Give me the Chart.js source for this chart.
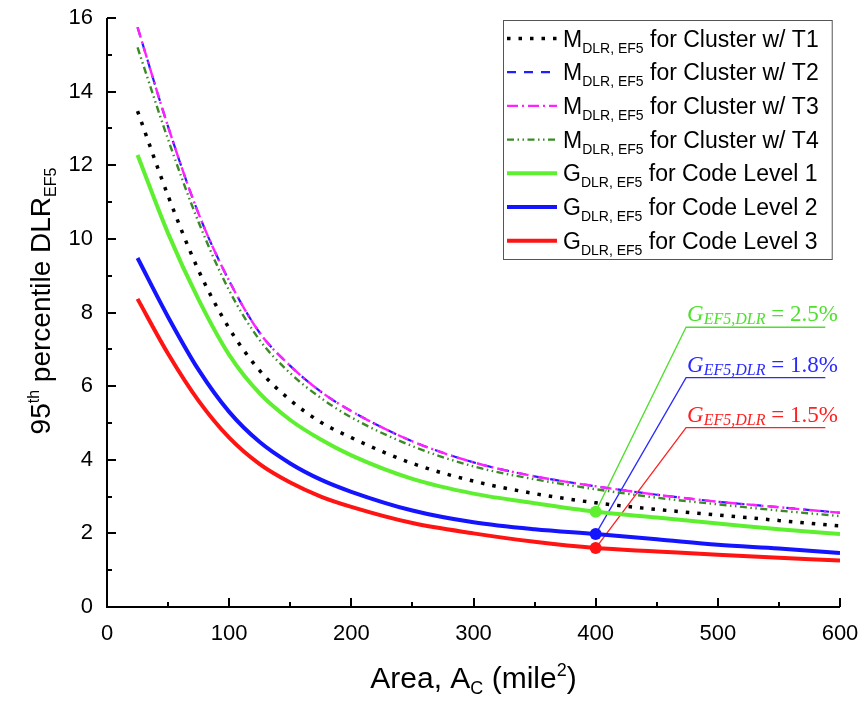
<!DOCTYPE html>
<html lang="en">
<head>
<meta charset="UTF-8">
<title>95th percentile DLR vs area</title>
<script src="https://cdn.jsdelivr.net/npm/chart.js"></script>
<style>
  body { margin: 0; background: #fff; }
  #wrap { width: 862px; height: 702px; }
</style>
</head>
<body>
<div id="wrap"><canvas id="chart" width="862" height="702"></canvas></div>
<script>
// values
const areas = [25, 50, 75, 100, 125, 150, 175, 200, 250, 300, 350, 400, 450, 500, 550, 600];
const clusterT1 = [13.47, 11.17, 9.14, 7.57, 6.42, 5.62, 5.02, 4.6, 3.9, 3.42, 3.08, 2.83, 2.65, 2.5, 2.35, 2.2];
const clusterT2 = [15.75, 13.05, 10.68, 8.86, 7.45, 6.55, 5.85, 5.32, 4.5, 3.93, 3.55, 3.28, 3.05, 2.86, 2.71, 2.56];
const clusterT3 = [15.75, 13.05, 10.68, 8.86, 7.45, 6.55, 5.85, 5.32, 4.5, 3.93, 3.55, 3.28, 3.05, 2.86, 2.71, 2.56];
const clusterT4 = [15.2, 12.7, 10.45, 8.6, 7.25, 6.35, 5.68, 5.15, 4.37, 3.82, 3.47, 3.2, 2.97, 2.79, 2.62, 2.47];
const codeLevel1 = [12.28, 10.15, 8.35, 6.85, 5.8, 5.08, 4.55, 4.12, 3.48, 3.08, 2.82, 2.59, 2.43, 2.27, 2.11, 1.98];
const codeLevel2 = [9.48, 7.88, 6.44, 5.3, 4.48, 3.9, 3.46, 3.13, 2.62, 2.3, 2.11, 1.98, 1.84, 1.69, 1.59, 1.47];
const codeLevel3 = [8.37, 6.88, 5.6, 4.6, 3.88, 3.38, 3.0, 2.72, 2.28, 2.0, 1.77, 1.6, 1.51, 1.42, 1.34, 1.26];

const legendNames = ['for Cluster w/ T1', 'for Cluster w/ T2', 'for Cluster w/ T3', 'for Cluster w/ T4',
                     'for Code Level 1', 'for Code Level 2', 'for Code Level 3'];
const legendSymbols = ['M', 'M', 'M', 'M', 'G', 'G', 'G'];

// design area where the code-level curves are marked, and the callouts
const markedArea = 400;
const calloutRates = ['2.5%', '1.8%', '1.5%'];
const calloutLevelY = [7.6, 6.23, 4.87];
const calloutX = [474, 588];

const SANS = "'Liberation Sans', Arial, sans-serif";
const SERIF = "'Liberation Serif', 'Times New Roman', serif";

function pts(vals) {
    return areas.map((a, i) => ({ x: a, y: vals[i] }));
}

function drawRich(ctx, parts, x, y) {
    let cx = x;
    parts.forEach(p => {
        ctx.font = p.font;
        ctx.fillText(p.t, cx, y + (p.dy || 0));
        cx += ctx.measureText(p.t).width;
    });
    return cx;
}

function richWidth(ctx, parts) {
    let w = 0;
    parts.forEach(p => { ctx.font = p.font; w += ctx.measureText(p.t).width; });
    return w;
}

const markRadius = ctx => (ctx.raw && ctx.raw.x === markedArea ? 6 : 0);

const datasets = [
    { data: pts(clusterT1), borderColor: '#000000', borderWidth: 3.5, borderDash: [3.5, 8], order: 2 },
    { data: pts(clusterT2), borderColor: '#1f1fff', borderWidth: 2.2, borderDash: [9, 8], order: 5 },
    { data: pts(clusterT3), borderColor: '#ff22ff', borderWidth: 2.4, borderDash: [11, 4, 2, 4], order: 4 },
    { data: pts(clusterT4), borderColor: '#3a8a25', borderWidth: 2.4, borderDash: [7, 3.5, 1.5, 3.5, 1.5, 3.5], order: 3 },
    { data: pts(codeLevel1), borderColor: '#5ef030', borderWidth: 4, order: 1, pointRadius: markRadius },
    { data: pts(codeLevel2), borderColor: '#1414ff', borderWidth: 4, order: 1, pointRadius: markRadius },
    { data: pts(codeLevel3), borderColor: '#ff1414', borderWidth: 4, order: 1, pointRadius: markRadius }
];
datasets.forEach(d => {
    d.fill = false;
    d.cubicInterpolationMode = 'monotone';
    d.borderCapStyle = 'butt';
    if (!d.pointRadius) d.pointRadius = 0;
    d.pointBackgroundColor = d.borderColor;
    d.pointBorderColor = d.borderColor;
    d.pointBorderWidth = 0;
});

const calloutColors = ['#4fe02f', '#2a2aff', '#ff2020'];
const calloutSeries = [codeLevel1, codeLevel2, codeLevel3];

const decorations = {
    id: 'decorations',
    beforeDatasetsDraw(chart) {
        // leader lines from the marked points to the rate labels
        const { ctx, scales: { x, y } } = chart;
        ctx.save();
        ctx.lineWidth = 1.3;
        calloutSeries.forEach((s, i) => {
            const k = areas.indexOf(markedArea);
            ctx.strokeStyle = calloutColors[i];
            ctx.beginPath();
            ctx.moveTo(x.getPixelForValue(markedArea), y.getPixelForValue(s[k]));
            ctx.lineTo(x.getPixelForValue(calloutX[0]), y.getPixelForValue(calloutLevelY[i]));
            ctx.lineTo(x.getPixelForValue(calloutX[1]), y.getPixelForValue(calloutLevelY[i]));
            ctx.stroke();
        });
        ctx.restore();
    },
    afterDraw(chart) {
        const { ctx, chartArea: a, scales: { x, y } } = chart;
        ctx.save();
        // axes with inward ticks
        ctx.strokeStyle = '#000';
        ctx.lineWidth = 2;
        ctx.beginPath();
        ctx.moveTo(a.left, a.top);
        ctx.lineTo(a.left, a.bottom);
        ctx.lineTo(a.right, a.bottom);
        for (let v = x.min; v <= x.max; v += 50) {
            const px = Math.round(x.getPixelForValue(v));
            ctx.moveTo(px, a.bottom);
            ctx.lineTo(px, a.bottom - (v % 100 === 0 ? 9 : 5));
        }
        for (let v = y.min; v <= y.max; v += 1) {
            const py = Math.round(y.getPixelForValue(v));
            ctx.moveTo(a.left, py);
            ctx.lineTo(a.left + (v % 2 === 0 ? 9 : 5), py);
        }
        ctx.stroke();

        // axis titles
        ctx.fillStyle = '#000';
        ctx.textBaseline = 'alphabetic';
        ctx.textAlign = 'left';
        const xt = [
            { t: 'Area, A', font: `30px ${SANS}` },
            { t: 'C', font: `18px ${SANS}`, dy: 6 },
            { t: ' (mile', font: `30px ${SANS}` },
            { t: '2', font: `18px ${SANS}`, dy: -12 },
            { t: ')', font: `30px ${SANS}` }
        ];
        drawRich(ctx, xt, (a.left + a.right) / 2 - richWidth(ctx, xt) / 2, 688);

        const yt = [
            { t: '95', font: `28px ${SANS}` },
            { t: 'th', font: `16px ${SANS}`, dy: -11 },
            { t: ' percentile DLR', font: `28px ${SANS}` },
            { t: 'EF5', font: `16px ${SANS}`, dy: 6 }
        ];
        ctx.save();
        ctx.translate(50, 301);
        ctx.rotate(-Math.PI / 2);
        drawRich(ctx, yt, -richWidth(ctx, yt) / 2, 0);
        ctx.restore();

        // callout labels
        calloutRates.forEach((r, i) => {
            ctx.fillStyle = calloutColors[i];
            const bx = x.getPixelForValue(calloutX[0]) + 1;
            const by = y.getPixelForValue(calloutLevelY[i]) - 6;
            drawRich(ctx, [
                { t: 'G', font: `italic 23px ${SERIF}` },
                { t: 'EF5,DLR', font: `italic 16px ${SERIF}`, dy: 3 },
                { t: ' = ' + r, font: `23px ${SERIF}` }
            ], bx, by);
        });

        // legend
        const lx = 503, ly = 20, rowH = 33.7, firstRow = 38.5;
        let maxRight = 0;
        const rows = legendNames.map((n, i) => [
            { t: legendSymbols[i], font: `23px ${SANS}` },
            { t: 'DLR, EF5', font: `14px ${SANS}`, dy: 6 },
            { t: ' ' + n, font: `23px ${SANS}` }
        ]);
        rows.forEach(r => { maxRight = Math.max(maxRight, 563 + richWidth(ctx, r)); });
        ctx.fillStyle = '#fff';
        ctx.fillRect(lx, ly, maxRight + 13 - lx, 259 - ly);
        ctx.strokeStyle = '#555';
        ctx.lineWidth = 1;
        ctx.strokeRect(lx + 0.5, ly + 0.5, maxRight + 13 - lx, 259 - ly);
        chart.data.datasets.forEach((d, i) => {
            const cy = firstRow + i * rowH;
            ctx.save();
            ctx.strokeStyle = d.borderColor;
            ctx.lineWidth = d.borderWidth;
            ctx.lineCap = 'butt';
            ctx.setLineDash(d.borderDash || []);
            ctx.beginPath();
            ctx.moveTo(507, cy);
            ctx.lineTo(557, cy);
            ctx.stroke();
            ctx.restore();
            ctx.fillStyle = '#000';
            drawRich(ctx, rows[i], 563, cy + 8);
        });
        ctx.restore();
    }
};

function fixBox(size, prop) {
    return function (s) {
        s[prop] = size;
        s.paddingTop = 0; s.paddingBottom = 0; s.paddingLeft = 0; s.paddingRight = 0;
    };
}

Chart.defaults.font.family = SANS;
Chart.defaults.color = '#000';

new Chart(document.getElementById('chart'), {
    type: 'line',
    data: { datasets: datasets },
    options: {
        responsive: false,
        animation: false,
        devicePixelRatio: 1,
        layout: { padding: { top: 18, right: 22, left: 0, bottom: 0 } },
        plugins: { legend: { display: false }, tooltip: { enabled: false } },
        scales: {
            x: {
                type: 'linear', min: 0, max: 600,
                ticks: { stepSize: 100, padding: 14, color: '#000', font: { size: 22 }, maxRotation: 0 },
                grid: { display: false, drawTicks: false },
                border: { display: false },
                afterFit: fixBox(95, 'height')
            },
            y: {
                min: 0, max: 16,
                ticks: { stepSize: 2, padding: 14, color: '#000', font: { size: 22 } },
                grid: { display: false, drawTicks: false },
                border: { display: false },
                afterFit: fixBox(107, 'width')
            }
        }
    },
    plugins: [decorations]
});
</script>
</body>
</html>
